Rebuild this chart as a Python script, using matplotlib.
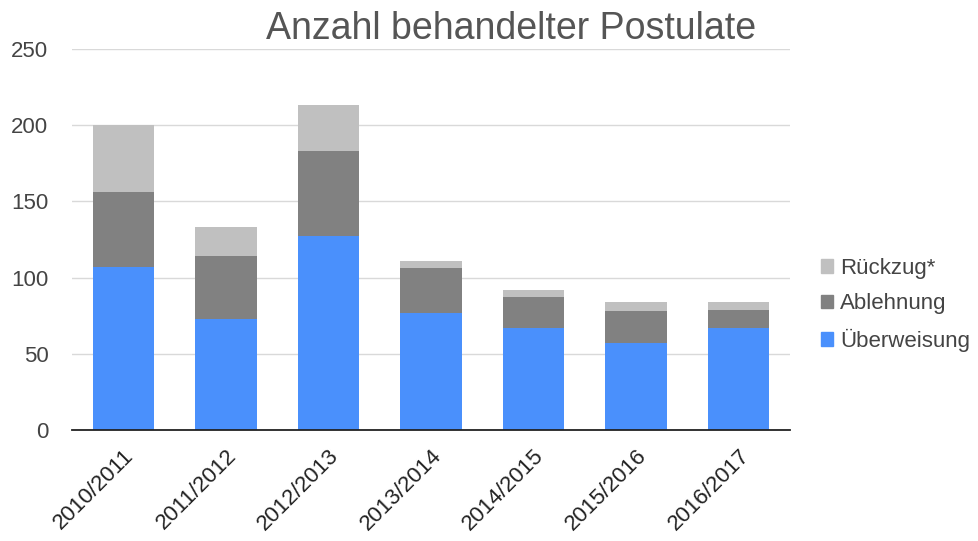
import matplotlib
matplotlib.use("Agg")
import matplotlib.pyplot as plt
from matplotlib.patches import Patch

plt.rcParams['font.family'] = ['Liberation Sans', 'DejaVu Sans']

categories = ["2010/2011", "2011/2012", "2012/2013", "2013/2014", "2014/2015", "2015/2016", "2016/2017"]
ueberweisung = [107, 73, 127, 77, 67, 57, 67]
ablehnung = [49, 41, 56, 29, 20, 21, 12]
rueckzug = [44, 19, 30, 5, 5, 6, 5]
yticks = [0, 50, 100, 150, 200, 250]

c_blue = "#4a90fc"
c_dark = "#818181"
c_light = "#c0c0c0"
txt = "#444444"

fig = plt.figure(figsize=(9.79, 5.41), dpi=100)
ax = fig.add_axes([72/979, 1 - 430/541, (790-72)/979, (430-49)/541])

x = list(range(len(categories)))
w = 0.6
ax.bar(x, ueberweisung, width=w, color=c_blue, zorder=2)
b2 = [u for u in ueberweisung]
ax.bar(x, ablehnung, width=w, bottom=b2, color=c_dark, zorder=2)
b3 = [u + a for u, a in zip(ueberweisung, ablehnung)]
ax.bar(x, rueckzug, width=w, bottom=b3, color=c_light, zorder=2)

ax.set_xlim(-0.5, len(categories) - 0.5)
ax.set_ylim(0, 250)
ax.set_yticks(yticks)
ax.set_yticklabels([str(t) for t in yticks], fontsize=16, color=txt)
ax.yaxis.grid(True, color="#d9d9d9", linewidth=1, zorder=0)
ax.set_xticks(x)
ax.set_xticklabels(categories, rotation=45, ha="right", rotation_mode="anchor", fontsize=16, color="#222222")
ax.tick_params(length=0)
ax.tick_params(axis='y', pad=17)
ax.tick_params(axis='x', pad=11)
for s in ["top", "right", "left"]:
    ax.spines[s].set_visible(False)
ax.spines["bottom"].set_color("#222222")
ax.spines["bottom"].set_linewidth(1.3)
ax.spines["bottom"].set_zorder(3)

fig.text(511/979, 1 - 29/541, "Anzahl behandelter Postulate", ha="center", va="center", fontsize=27, color="#555555")

handles = [Patch(color=c_light, label="Rückzug*"), Patch(color=c_dark, label="Ablehnung"), Patch(color=c_blue, label="Überweisung")]
fig.legend(handles=handles, loc="center left", bbox_to_anchor=(821/979, 1 - 305/541), frameon=False,
           fontsize=16, handlelength=0.55, handleheight=0.55, handletextpad=0.3, labelspacing=0.65, labelcolor=txt, borderaxespad=0, borderpad=0)

fig.savefig("out.png", dpi=100)
